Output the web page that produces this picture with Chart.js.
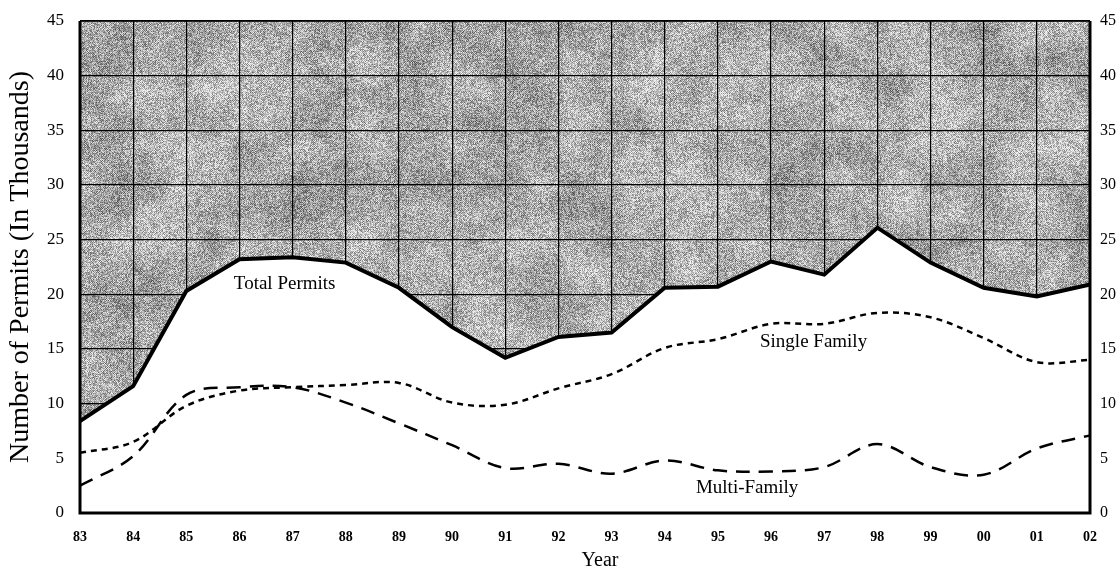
<!DOCTYPE html>
<html>
<head>
<meta charset="utf-8">
<script src="https://cdn.jsdelivr.net/npm/chart.js@4.4.1/dist/chart.umd.min.js"></script>
<style>
  body { margin: 0; background: #fff; }
  canvas { display: block; }
</style>
</head>
<body>
<canvas id="permitsChart" width="1120" height="579"></canvas>
<script>
// Données
const years = ['83', '84', '85', '86', '87', '88', '89', '90', '91', '92',
               '93', '94', '95', '96', '97', '98', '99', '00', '01', '02'];
const totalPermits = [8.4, 11.6, 20.3, 23.2, 23.4, 22.9, 20.6, 17.0, 14.2, 16.1,
                      16.5, 20.6, 20.7, 23.0, 21.8, 26.1, 22.9, 20.6, 19.8, 20.9];
const singleFamily = [5.5, 6.5, 9.8, 11.2, 11.5, 11.7, 11.9, 10.1, 9.9, 11.4,
                      12.7, 15.1, 15.9, 17.3, 17.3, 18.3, 17.9, 16.0, 13.8, 14.0];
const multiFamily = [2.5, 5.2, 10.8, 11.5, 11.5, 10.1, 8.2, 6.2, 4.1, 4.5,
                     3.6, 4.8, 3.9, 3.8, 4.2, 6.3, 4.2, 3.5, 5.9, 7.1];
const yTicks = [0, 5, 10, 15, 20, 25, 30, 35, 40, 45];

const serif = '"Liberation Serif", "Times New Roman", serif';

// Texture grise (fond "scanné")
function hash(x, y) {
    let h = Math.imul(x, 374761393) + Math.imul(y, 668265263);
    h = Math.imul(h ^ (h >>> 13), 1274126177);
    h = h ^ (h >>> 16);
    return (h >>> 0) / 4294967295;
}
function valueNoise(x, y, cell, seed) {
    const gx = Math.floor(x / cell), gy = Math.floor(y / cell);
    const fx = x / cell - gx, fy = y / cell - gy;
    const a = hash(gx + seed, gy), b = hash(gx + 1 + seed, gy);
    const c = hash(gx + seed, gy + 1), d = hash(gx + 1 + seed, gy + 1);
    const top = a + (b - a) * fx, bot = c + (d - c) * fx;
    return top + (bot - top) * fy;
}
const texture = document.createElement('canvas');
texture.width = 1120; texture.height = 579;
(function () {
    const tctx = texture.getContext('2d');
    const img = tctx.createImageData(1120, 579);
    for (let y = 0; y < 579; y++) {
        for (let x = 0; x < 1120; x++) {
            const low = valueNoise(x, y, 30, 7);
            const mid = valueNoise(x, y, 9, 131);
            let g = 172 + 50 * (low - 0.5) + 28 * (mid - 0.5);
            g += (hash(x, y) - 0.5) * 120;
            g += ((x + y) & 1) ? 18 : -18;
            g = Math.max(35, Math.min(245, g));
            const i = (y * 1120 + x) * 4;
            img.data[i] = img.data[i + 1] = img.data[i + 2] = g;
            img.data[i + 3] = 255;
        }
    }
    tctx.putImageData(img, 0, 0);
})();

const backgroundPlugin = {
    id: 'scanBackground',
    beforeDraw(chart) {
        const { ctx, chartArea: a } = chart;
        ctx.save();
        ctx.beginPath();
        ctx.rect(a.left, a.top, a.right - a.left, a.bottom - a.top);
        ctx.clip();
        ctx.drawImage(texture, 0, 0);
        ctx.restore();
    }
};

const framePlugin = {
    id: 'frameAndNotes',
    afterDatasetsDraw(chart) {
        const { ctx, chartArea: a, scales } = chart;
        ctx.save();
        ctx.strokeStyle = '#000';
        ctx.lineWidth = 1.5;
        ctx.beginPath();
        ctx.moveTo(a.left, a.top); ctx.lineTo(a.right, a.top);
        ctx.stroke();
        ctx.lineWidth = 3;
        ctx.beginPath();
        ctx.moveTo(a.left, a.top); ctx.lineTo(a.left, a.bottom);
        ctx.lineTo(a.right, a.bottom); ctx.lineTo(a.right, a.top);
        ctx.stroke();

        // Étiquettes des séries
        const notes = [
            { text: 'Total Permits', i: 3.85, v: 20.9 },
            { text: 'Single Family', i: 13.8, v: 15.6 },
            { text: 'Multi-Family', i: 12.55, v: 2.3 }
        ];
        ctx.fillStyle = '#000';
        ctx.font = '19px ' + serif;
        ctx.textAlign = 'center';
        ctx.textBaseline = 'middle';
        notes.forEach(n => {
            ctx.fillText(n.text, scales.x.getPixelForValue(n.i), scales.y.getPixelForValue(n.v));
        });

        // Titre de l'axe X
        ctx.font = '20px ' + serif;
        ctx.fillText('Year', (a.left + a.right) / 2 + 15, 561);
        ctx.restore();
    }
};

const ctx = document.getElementById('permitsChart').getContext('2d');
const permitsChart = new Chart(ctx, {
    type: 'line',
    data: {
        labels: years,
        datasets: [{
            label: 'Total Permits',
            data: totalPermits,
            borderColor: '#000',
            borderWidth: 4,
            backgroundColor: '#fff',
            fill: 'origin',
            tension: 0,
            pointRadius: 0,
            order: 3
        }, {
            label: 'Single Family',
            data: singleFamily,
            borderColor: '#000',
            borderWidth: 2.5,
            borderDash: [6, 5],
            fill: false,
            tension: 0.35,
            pointRadius: 0,
            order: 1
        }, {
            label: 'Multi-Family',
            data: multiFamily,
            borderColor: '#000',
            borderWidth: 2.5,
            borderDash: [14, 9],
            fill: false,
            tension: 0.35,
            pointRadius: 0,
            order: 2
        }]
    },
    options: {
        responsive: false,
        animation: false,
        layout: { padding: { top: 21, left: 0, right: 0, bottom: 0 } },
        plugins: {
            legend: { display: false },
            tooltip: { enabled: false }
        },
        scales: {
            x: {
                offset: false,
                grid: { color: '#000', lineWidth: 1.2, drawTicks: false },
                border: { display: false },
                ticks: {
                    color: '#000',
                    padding: 16,
                    maxRotation: 0,
                    autoSkip: false,
                    font: { family: serif, size: 14, weight: 'bold' }
                },
                afterFit(scale) { scale.height = 66; }
            },
            y: {
                min: 0, max: 45,
                afterBuildTicks(scale) { scale.ticks = yTicks.map(v => ({ value: v })); },
                grid: { color: '#000', lineWidth: 1.2, drawTicks: false },
                border: { display: false },
                ticks: {
                    color: '#000',
                    padding: 16,
                    font: { family: serif, size: 17 }
                },
                title: {
                    display: true,
                    text: 'Number of Permits (In Thousands)',
                    color: '#000',
                    font: { family: serif, size: 28 },
                    padding: { top: 4, bottom: 0 }
                },
                afterFit(scale) {
                    scale.width = 80;
                    scale.paddingTop = 0;
                    scale.paddingBottom = 0;
                }
            },
            y2: {
                position: 'right',
                min: 0, max: 45,
                afterBuildTicks(scale) { scale.ticks = yTicks.map(v => ({ value: v })); },
                grid: { display: false },
                border: { display: false },
                ticks: {
                    color: '#000',
                    padding: 2,
                    font: { family: serif, size: 16 }
                },
                afterFit(scale) {
                    scale.width = 30;
                    scale.paddingTop = 0;
                    scale.paddingBottom = 0;
                }
            }
        }
    },
    plugins: [backgroundPlugin, framePlugin]
});
</script>
</body>
</html>
